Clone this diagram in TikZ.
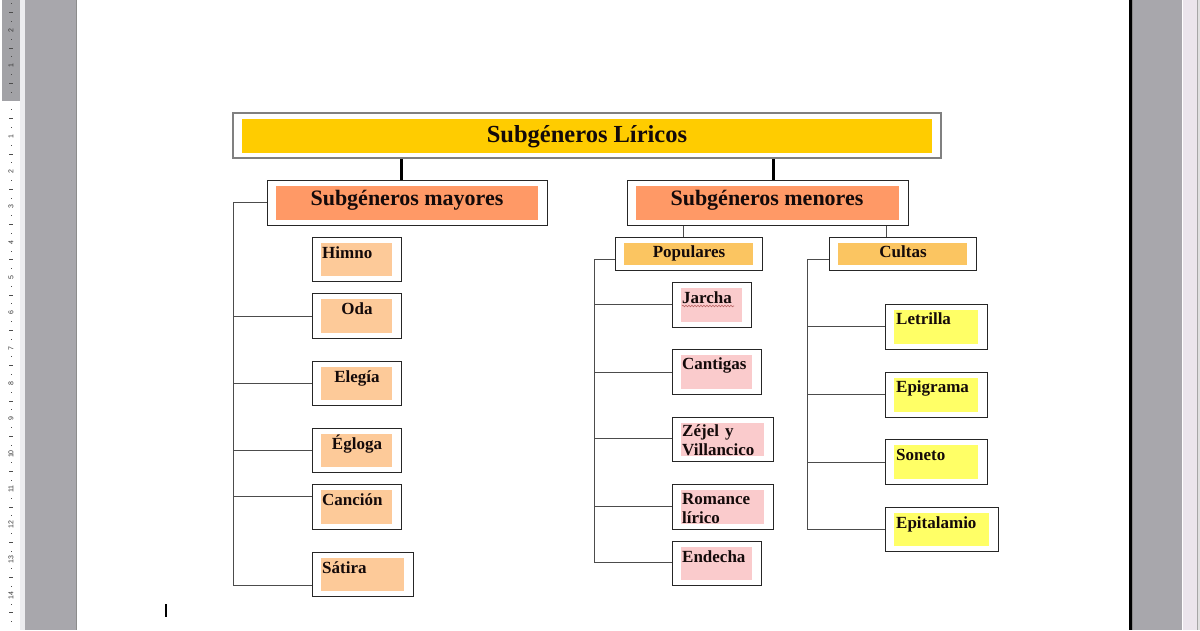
\documentclass[tikz,border=0pt]{standalone}
\usepackage{fontspec}
\setmainfont{Liberation Serif}
\newfontfamily\rulerfont{Liberation Sans}
\usetikzlibrary{fit,decorations.pathmorphing}
\definecolor{wgray}{HTML}{A8A7AC}
\definecolor{rgray}{HTML}{A2A2A6}
\definecolor{lstrip}{HTML}{ECECEF}
\definecolor{pstrip}{HTML}{EBE5EC}
\definecolor{cTitle}{HTML}{FFCC00}
\definecolor{cSub}{HTML}{FF9966}
\definecolor{cGrp}{HTML}{FBC561}
\definecolor{cPeach}{HTML}{FDCA99}
\definecolor{cPink}{HTML}{FACBCC}
\definecolor{cYel}{HTML}{FFFF66}
\definecolor{ctext}{HTML}{140A0A}
\tikzset{
  obox/.style={draw=black!85, line width=1pt, inner sep=0pt, fill=white},
  tbox/.style={draw=black!50, line width=1.5pt, inner sep=0pt, fill=white},
  conn/.style={draw=black!70, line width=1pt},
  bconn/.style={draw=black, line width=3pt},
  lab/.style={font=\bfseries\fontsize{17}{17}\selectfont, text=ctext, inner sep=0pt, anchor=base west},
  clab/.style={lab, anchor=base},
  sublab/.style={font=\bfseries\fontsize{22}{22}\selectfont, text=ctext, inner sep=0pt, anchor=base},
  titlab/.style={font=\bfseries\fontsize{24.5}{24.5}\selectfont, text=ctext, inner sep=0pt, anchor=base},
  rnum/.style={font=\rulerfont\fontsize{7}{7}\selectfont, text=black!80, inner sep=0pt, rotate=90},
}
\newcommand\mybox[7][obox]{%
  \node[#1, fit={(#3,#4) (#5,#6)}, path picture={\fill[#7]
     ([xshift=9pt,yshift=-5.5pt]path picture bounding box.north west) rectangle
     ([xshift=-9pt,yshift=5.5pt]path picture bounding box.south east);}] (#2) {};}
\begin{document}
\begin{tikzpicture}[x=1pt,y=-1pt]
\useasboundingbox (0,0) rectangle (1200,630);
% window background
\fill[white] (0,0) rectangle (1200,630);
\fill[lstrip] (20,0) rectangle (25,630);
\fill[wgray] (25,0) rectangle (76,630);
\fill[black!45] (75.5,0) rectangle (77,630);
\fill[white] (77,0) rectangle (1129,630);
\fill[black] (1129,0) rectangle (1131.5,630);
\fill[black!45] (1131.5,0) rectangle (1132.5,630);
\fill[wgray] (1132.5,0) rectangle (1182,630);
\fill[white] (1182,0) rectangle (1183,630);
\fill[pstrip] (1183,0) rectangle (1196.5,630);
\fill[black!35] (1196.5,0) rectangle (1197.5,630);
\fill[black!12] (1197.5,0) rectangle (1200,630);
% ruler
\fill[white] (2,101) rectangle (20,630);
\fill[rgray] (2,0) rectangle (20,101);
\foreach \k in {1,...,14} {
  \node[rnum] (rn\k) at (11,{101+35.3*\k}) {\k};
}
\foreach \k in {1,2} {
  \node[rnum] (rt\k) at (11,{101-35.3*\k}) {\k};
}
\foreach \k in {-3,...,14} {
  \fill[black!70] (9,{101+35.3*(\k+0.5)-0.4}) rectangle (13,{101+35.3*(\k+0.5)+0.4});
  \fill[black!70] (10.5,{101+35.3*(\k+0.25)-0.5}) rectangle (11.5,{101+35.3*(\k+0.25)+0.5});
  \fill[black!70] (10.5,{101+35.3*(\k+0.75)-0.5}) rectangle (11.5,{101+35.3*(\k+0.75)+0.5});
}
% text cursor
\draw[line width=1.3pt] (166,604) -- (166,617);

% boxes
\mybox[tbox]{title}{233}{113}{941}{158}{cTitle}
\mybox{mayores}{267}{180}{547}{225}{cSub}
\mybox{menores}{627}{180}{908}{225}{cSub}
\mybox{populares}{615}{237}{762}{270}{cGrp}
\mybox{cultas}{829}{237}{976}{270}{cGrp}

\mybox{himno}{312}{237}{401}{281}{cPeach}
\mybox{oda}{312}{293}{401}{338}{cPeach}
\mybox{elegia}{312}{361}{401}{405}{cPeach}
\mybox{egloga}{312}{428}{401}{472}{cPeach}
\mybox{cancion}{312}{484}{401}{529}{cPeach}
\mybox{satira}{312}{552}{413}{596}{cPeach}

\mybox{jarcha}{672}{282}{751}{327}{cPink}
\mybox{cantigas}{672}{349}{761}{394}{cPink}
\mybox{zejel}{672}{417}{773}{461}{cPink}
\mybox{romance}{672}{484}{773}{529}{cPink}
\mybox{endecha}{672}{541}{761}{585}{cPink}

\mybox{letrilla}{885}{304}{987}{349}{cYel}
\mybox{epigrama}{885}{372}{987}{417}{cYel}
\mybox{soneto}{885}{439}{987}{484}{cYel}
\mybox{epitalamio}{885}{507}{998}{551}{cYel}

% labels
\node[titlab] (t-title) at (587,142) {Subgéneros Líricos};
\node[sublab] (t-mayores) at (407,205) {Subgéneros mayores};
\node[sublab] (t-menores) at (767,205) {Subgéneros menores};
\node[clab] (t-populares) at (689,257) {Populares};
\node[clab] (t-cultas) at (903,257) {Cultas};

\node[lab] (t-himno) at (322,258) {Himno};
\node[clab] (t-oda) at (357,314) {Oda};
\node[clab] (t-elegia) at (357,382) {Elegía};
\node[clab] (t-egloga) at (357,449) {Égloga};
\node[lab] (t-cancion) at (322,505) {Canción};
\node[lab] (t-satira) at (322,573) {Sátira};

\node[lab] (t-jarcha) at (682,303) {Jarcha};
\node[lab] (t-cantigas) at (682,369) {Cantigas};
\node[lab] (t-zejel) at (682,436) {Zéjel\hspace{6pt}y};
\node[lab] (t-villancico) at (682,455) {Villancico};
\node[lab] (t-romance) at (682,504) {Romance};
\node[lab] (t-lirico) at (682,523) {lírico};
\node[lab] (t-endecha) at (682,562) {Endecha};

\node[lab] (t-letrilla) at (896,324) {Letrilla};
\node[lab] (t-epigrama) at (896,392) {Epigrama};
\node[lab] (t-soneto) at (896,460) {Soneto};
\node[lab] (t-epitalamio) at (896,528) {Epitalamio};

% spell-check squiggle
\draw[draw=red!55!black!60, line width=0.6pt, decorate, decoration={snake, amplitude=0.8pt, segment length=3pt}] (t-jarcha.base west) ++(0,3) -- ++(52,0);

% thick connectors
\coordinate (k1) at (401,0);
\coordinate (k2) at (773,0);
\draw[bconn] (title.south -| k1) -- (mayores.north -| k1);
\draw[bconn] (title.south -| k2) -- (menores.north -| k2);
\coordinate (k3) at (683,0);
\coordinate (k4) at (886,0);
\draw[conn] (menores.south -| k3) -- (populares.north -| k3);
\draw[conn] (menores.south -| k4) -- (cultas.north -| k4);

% left tree
\coordinate (L0) at (233,202.5);
\coordinate (L1) at (233,316);
\coordinate (L2) at (233,383);
\coordinate (L3) at (233,450);
\coordinate (L4) at (233,496);
\coordinate (L5) at (233,585);
\draw[conn] (mayores.west) -- (L0) -- (L5);
\draw[conn] (L1) -- (L1 -| oda.west);
\draw[conn] (L2) -- (L2 -| elegia.west);
\draw[conn] (L3) -- (L3 -| egloga.west);
\draw[conn] (L4) -- (L4 -| cancion.west);
\draw[conn] (L5) -- (L5 -| satira.west);

% populares tree
\coordinate (P0) at (594,259);
\coordinate (P1) at (594,304);
\coordinate (P2) at (594,372);
\coordinate (P3) at (594,438);
\coordinate (P4) at (594,506);
\coordinate (P5) at (594,562);
\draw[conn] (P0 -| populares.west) -- (P0) -- (P5);
\draw[conn] (P1) -- (P1 -| jarcha.west);
\draw[conn] (P2) -- (P2 -| cantigas.west);
\draw[conn] (P3) -- (P3 -| zejel.west);
\draw[conn] (P4) -- (P4 -| romance.west);
\draw[conn] (P5) -- (P5 -| endecha.west);

% cultas tree
\coordinate (C0) at (807,259);
\coordinate (C1) at (807,326);
\coordinate (C2) at (807,394);
\coordinate (C3) at (807,462);
\coordinate (C4) at (807,529);
\draw[conn] (C0 -| cultas.west) -- (C0) -- (C4);
\draw[conn] (C1) -- (C1 -| letrilla.west);
\draw[conn] (C2) -- (C2 -| epigrama.west);
\draw[conn] (C3) -- (C3 -| soneto.west);
\draw[conn] (C4) -- (C4 -| epitalamio.west);
\end{tikzpicture}
\end{document}
